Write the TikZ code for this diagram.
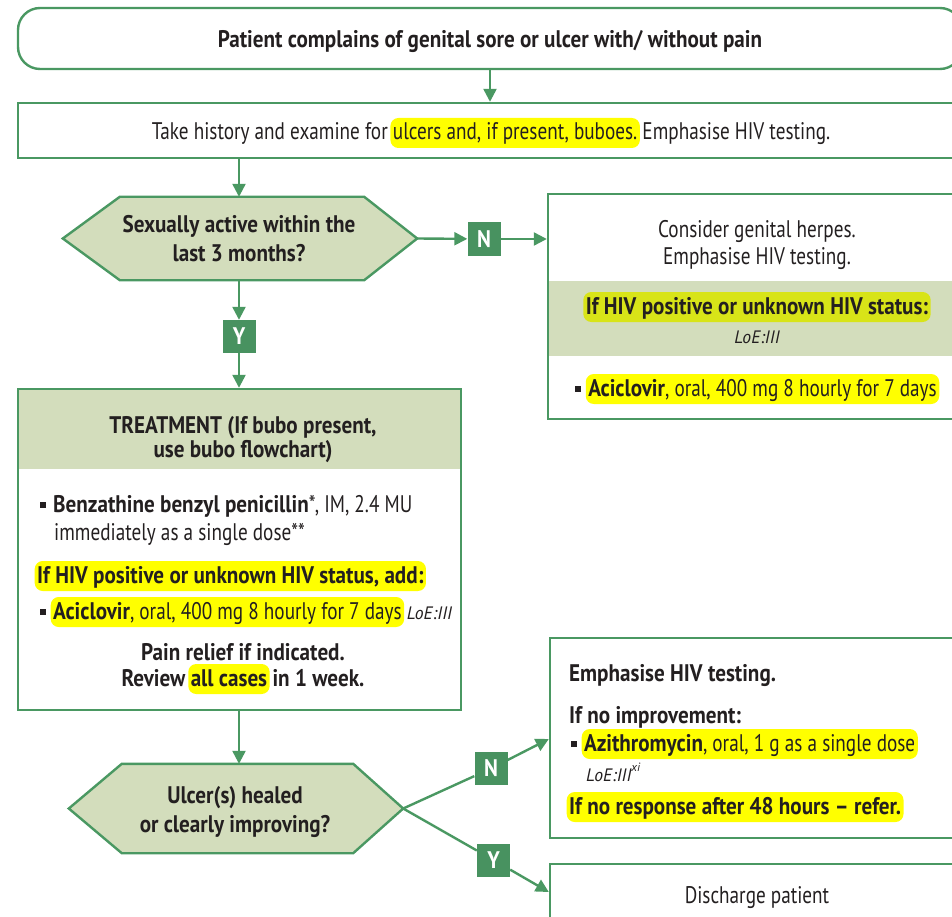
\documentclass[tikz,border=0pt]{standalone}
\usepackage{fontspec}
\setmainfont{PT Sans}[FakeStretch=0.80,
  BoldFeatures={FakeStretch=0.88},
  ItalicFeatures={FakeStretch=0.98}]
\usetikzlibrary{arrows.meta,calc}

\definecolor{gline}{RGB}{74,152,98}
\definecolor{gfill}{RGB}{211,221,188}
\definecolor{gbox}{RGB}{72,146,96}
\definecolor{hly}{RGB}{255,255,0}
\definecolor{hlg}{RGB}{216,228,24}
\definecolor{ink}{RGB}{35,31,32}

% inline highlighter with rounded ends
\newcommand\hlt[2][hly]{\kern-2.5pt\relax\tikz[baseline]\node[anchor=base,fill=#1,rounded corners=8pt,inner xsep=2.5pt,inner ysep=0pt,text height=22pt,text depth=8pt]{#2};\kern-2.5pt\relax}
% square list bullet
\newcommand\bul{\rule[4pt]{6pt}{6pt}\hspace{7pt}}
% level-of-evidence tag
\newcommand\loe{{\fontsize{18}{20}\selectfont\itshape LoE:III}}

\begin{document}
\fontsize{24}{27}\selectfont
\begin{tikzpicture}[x=1pt,y=-1pt,text=ink,
  box/.style={draw=gline,line width=2.4pt,inner sep=0pt},
  band/.style={fill=gfill,inner sep=0pt},
  conn/.style={draw=gline,line width=2.4pt},
  arr/.style={conn,-{Triangle[length=13pt,width=13pt]}},
  yn/.style={fill=gbox,text=white,font=\fontsize{24}{24}\selectfont\bfseries,minimum size=33pt,inner sep=0pt},
  decision/.style={draw=gline,fill=gfill,line width=2.4pt,line join=miter},
  holder/.style={inner sep=0pt},
  line/.style={inner sep=0pt,anchor=base},
  lline/.style={inner sep=0pt,anchor=base west}]
\useasboundingbox (0,0) rectangle (952,917);
\begin{scope}
\clip (0,0) rectangle (952,917);

% ---- start and history ----
\node[box,rounded corners=22pt,minimum width=944pt,minimum height=61pt] (start) at (490,38.5) {};
\node[line,font=\bfseries] (startT) at (490,47.5) {Patient complains of genital sore or ulcer with/ without pain};
\node[box,minimum width=944pt,minimum height=55pt] (history) at (490,130.5) {};
\node[line] (historyT) at (491,140) {Take history and examine for \hlt{ulcers and, if present, buboes.} Emphasise HIV testing.};
\draw[arr] (start) -- (history);

% ---- first decision ----
\node[holder,minimum width=354pt,minimum height=83pt] (sexact) at (240,238.5) {};
\path[decision] (sexact.west) -- ($(sexact.north west)+(57,0)$) -- ($(sexact.north east)+(-53,0)$)
  -- (sexact.east) -- ($(sexact.south east)+(-53,0)$) -- ($(sexact.south west)+(57,0)$) -- cycle;
\node[line,font=\bfseries] (sexactA) at (239,233) {Sexually active within the};
\node[line,font=\bfseries] (sexactB) at (239,261) {last 3 months?};
\draw[arr] (history.south -| 239,0) -- (sexact.north -| 239,0);

% ---- no: herpes box ----
\node[yn] (n1) at (484,239) {N};
\node[band,minimum width=418pt,minimum height=75pt] (herpesband) at (757,318.5) {};
\node[box,minimum width=418pt,minimum height=225pt] (herpes) at (757,306.5) {};
\node[line] (herpesA) at (757,237) {Consider genital herpes.};
\node[line] (herpesB) at (757,264) {Emphasise HIV testing.};
\node[line,font=\bfseries] (herpesC) at (757,314) {\hlt[hlg]{If HIV positive or unknown HIV status:}};
\node[line] (herpesD) at (757,343) {\loe};
\node[line] (herpesE) at (756,396) {\bul\hlt{\textbf{Aciclovir}, oral, 400 mg 8 hourly for 7 days}};
\draw[arr] (sexact.east) -- (n1);
\draw[arr] (n1) -- (n1 -| herpes.west);

% ---- yes: treatment box ----
\node[yn] (y1) at (239,336.5) {Y};
\node[band,minimum width=443pt,minimum height=80pt] (treathead) at (239.5,429) {};
\node[box,minimum width=443pt,minimum height=321pt] (treat) at (239.5,549.5) {};
\node[line,font=\bfseries] (treatA) at (243,433) {TREATMENT (If bubo present,};
\node[line,font=\bfseries] (treatB) at (243,457) {use bubo flowchart)};
\node[lline] (treatC) at (40,512) {\bul\textbf{Benzathine benzyl penicillin}*, IM, 2.4 MU};
\node[lline] (treatD) at (54,540) {immediately as a single dose**};
\node[lline,font=\bfseries] (treatE) at (37,583) {\hlt{If HIV positive or unknown HIV status, add:}};
\node[lline] (treatF) at (40,619) {\bul\hlt{\textbf{Aciclovir}, oral, 400 mg 8 hourly for 7 days} \loe};
\node[line,font=\bfseries] (treatG) at (243,660) {Pain relief if indicated.};
\node[line,font=\bfseries] (treatH) at (243,686) {Review \hlt{all cases} in 1 week.};
\draw[arr] (sexact.south -| y1.north) -- (y1);
\draw[arr] (y1) -- (y1 |- treat.north);

% ---- second decision ----
\node[holder,minimum width=334pt,minimum height=89pt] (heal) at (236,808.5) {};
\path[decision] (heal.west) -- ($(heal.north west)+(53,0)$) -- ($(heal.north east)+(-50,0)$)
  -- (heal.east) -- ($(heal.south east)+(-50,0)$) -- ($(heal.south west)+(53,0)$) -- cycle;
\node[line,font=\bfseries] (healA) at (235,803) {Ulcer(s) healed};
\node[line,font=\bfseries] (healB) at (235,832) {or clearly improving?};
\draw[arr] (treat.south -| 239,0) -- (heal.north -| 239,0);

% ---- no improvement box ----
\node[box,minimum width=416pt,minimum height=200pt] (noimp) at (758,738) {};
\node[lline,font=\bfseries] (noimpA) at (569,681) {Emphasise HIV testing.};
\node[lline,font=\bfseries] (noimpB) at (569,723) {If no improvement:};
\node[lline] (noimpC) at (571,751) {\bul\hlt{\textbf{Azithromycin}, oral, 1 g as a single dose}};
\node[lline] (noimpD) at (586,781) {\loe\textsuperscript{\fontsize{12}{12}\selectfont\itshape xi}};
\node[lline,font=\bfseries] (noimpE) at (569,814) {\hlt{If no response after 48 hours -- refer.}};

% ---- discharge box ----
\node[box,minimum width=416pt,minimum height=80pt] (discharge) at (758,904) {};
\node[line] (dischargeT) at (757,903) {Discharge patient};

% ---- branches from second decision ----
\node[yn] (n2) at (491,768.5) {N};
\node[yn] (y2) at (493.5,860) {Y};
\coordinate (n2tip) at ($(noimp.west)+(0,1)$);
\coordinate (y2tip) at ($(discharge.west)+(0,-12)$);
\draw[conn] (heal.east) -- (n2);
\draw[arr] (n2) -- (n2tip);
\draw[conn] (heal.east) -- (y2);
\draw[arr] (y2) -- (y2tip);
\end{scope}
\end{tikzpicture}
\end{document}
